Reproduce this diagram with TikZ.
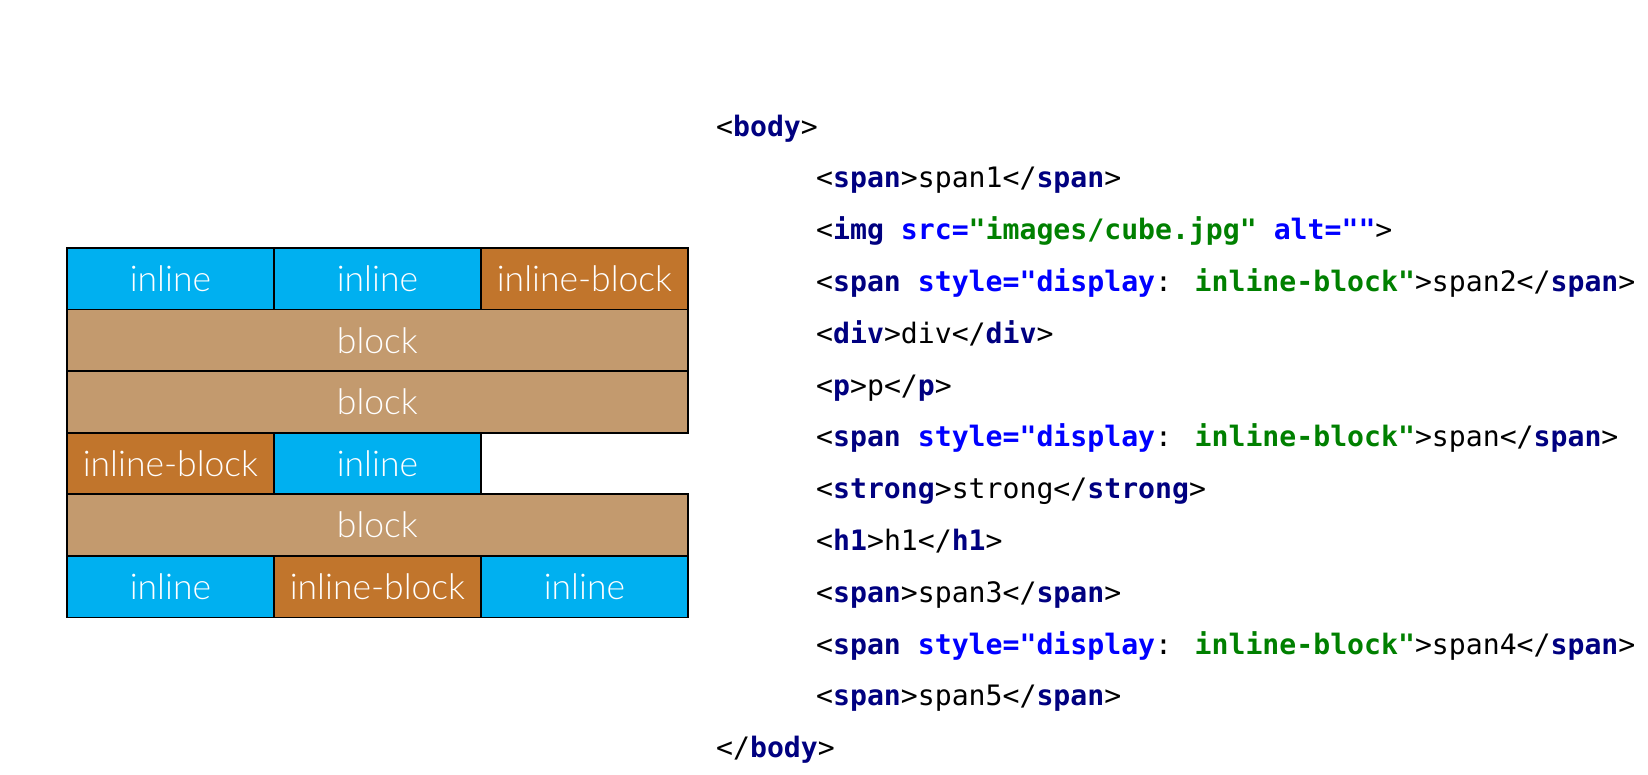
\documentclass[tikz,border=0pt]{standalone}
\usepackage{fontspec}
\IfFontExistsTF{Lato Light}{\newfontfamily\boxfont{Lato Light}}{%
  \IfFontExistsTF{Fira Sans Light}{\newfontfamily\boxfont{Fira Sans Light}}{\newfontfamily\boxfont{Liberation Sans}}}
\newfontfamily\codefont{DejaVu Sans Mono}
\definecolor{inlc}{HTML}{00B0F0}
\definecolor{ibc}{HTML}{C1752C}
\definecolor{blkc}{HTML}{C39A6E}
\definecolor{tagc}{HTML}{000080}
\definecolor{attc}{HTML}{0000FF}
\definecolor{valc}{HTML}{008000}
\newcommand\tg[1]{{\bfseries\color{tagc}#1}}
\newcommand\at[1]{{\bfseries\color{attc}#1}}
\newcommand\vl[1]{{\bfseries\color{valc}#1}}
\tikzset{
  cell/.style={draw=black, line width=1.8pt, anchor=north west, inner sep=0pt,
    minimum width=207pt, minimum height=61.6pt, text=white,
    font=\boxfont\fontsize{35.5}{38}\selectfont},
  inl/.style={cell, fill=inlc},
  ib/.style={cell, fill=ibc},
  blk/.style={cell, fill=blkc, minimum width=621pt},
  code/.style={anchor=base west, inner sep=0pt, text=black,
    font=\codefont\fontsize{28.15}{30}\selectfont}
}
\begin{document}
\begin{tikzpicture}[x=1pt,y=-1pt]
\useasboundingbox (0,0) rectangle (1648,774);
% boxes
\node[inl] (r1a) at (66,247) {inline};
\node[inl] (r1b) at (273,247) {inline};
\node[ib]  (r1c) at (480,247) {inline-block};
\node[blk] (r2)  at (66,308.6) {block};
\node[blk] (r3)  at (66,370.2) {block};
\node[ib]  (r4a) at (66,431.8) {inline-block};
\node[inl] (r4b) at (273,431.8) {inline};
\node[blk] (r5)  at (66,493.4) {block};
\node[inl] (r6a) at (66,555) {inline};
\node[ib]  (r6b) at (273,555) {inline-block};
\node[inl] (r6c) at (480,555) {inline};
% code
\node[code] (c0)  at (716,136.0) {<\tg{body}>};
\node[code] (c1)  at (816,187.8) {<\tg{span}>span1</\tg{span}>};
\node[code] (c2)  at (816,239.6) {<\tg{img} \at{src=}\vl{"images/cube.jpg"} \at{alt=""}>};
\node[code] (c3)  at (816,291.4) {<\tg{span} \at{style="display}: \vl{inline-block"}>span2</\tg{span}>};
\node[code] (c4)  at (816,343.2) {<\tg{div}>div</\tg{div}>};
\node[code] (c5)  at (816,395.0) {<\tg{p}>p</\tg{p}>};
\node[code] (c6)  at (816,446.8) {<\tg{span} \at{style="display}: \vl{inline-block"}>span</\tg{span}>};
\node[code] (c7)  at (816,498.6) {<\tg{strong}>strong</\tg{strong}>};
\node[code] (c8)  at (816,550.4) {<\tg{h1}>h1</\tg{h1}>};
\node[code] (c9)  at (816,602.2) {<\tg{span}>span3</\tg{span}>};
\node[code] (c10) at (816,654.0) {<\tg{span} \at{style="display}: \vl{inline-block"}>span4</\tg{span}>};
\node[code] (c11) at (816,705.8) {<\tg{span}>span5</\tg{span}>};
\node[code] (c12) at (716,757.6) {</\tg{body}>};
\end{tikzpicture}
\end{document}
